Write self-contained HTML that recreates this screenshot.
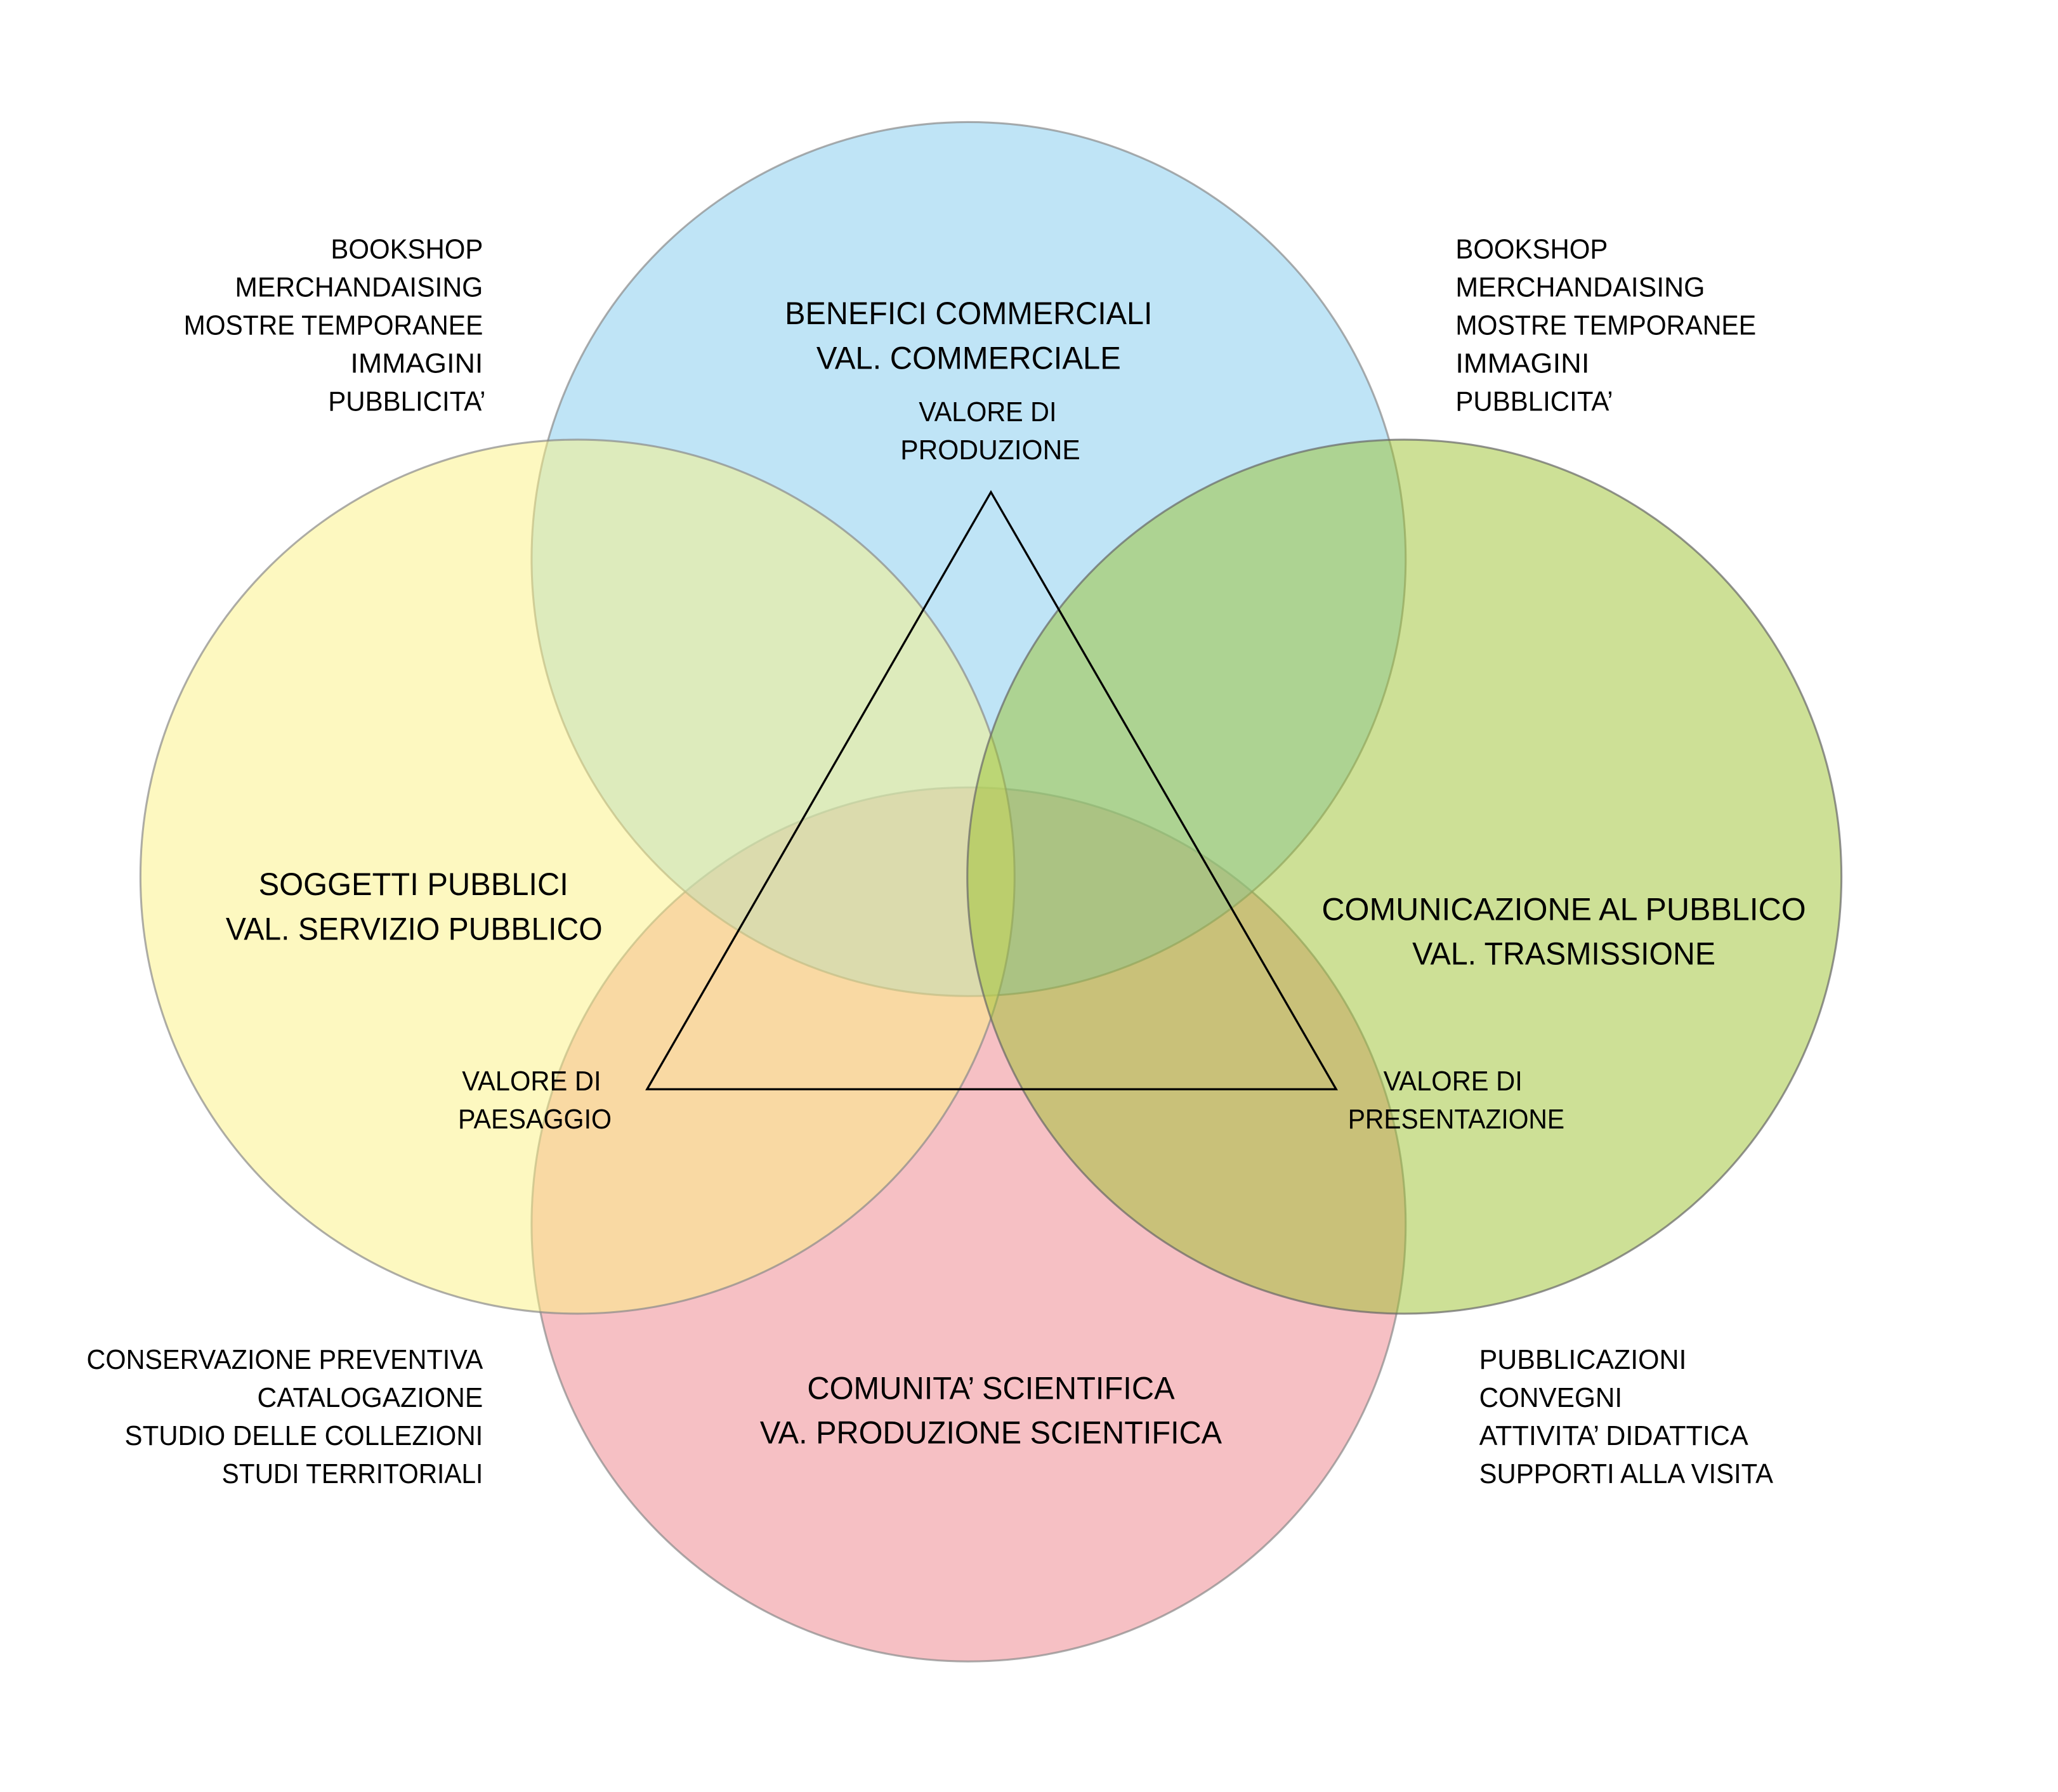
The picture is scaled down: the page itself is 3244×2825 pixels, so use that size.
<!DOCTYPE html>
<html><head><meta charset="utf-8"><style>html,body{margin:0;padding:0;background:#fff}svg{display:block}</style></head>
<body>
<svg width="3244" height="2825" viewBox="0 0 1568 1365.5" xmlns="http://www.w3.org/2000/svg" font-family="'Liberation Sans', sans-serif" fill="#000">
<rect width="1568" height="1365.5" fill="#fff"/>
<g stroke="#8a8a8a" stroke-width="1.5" stroke-opacity="0.7">
<circle cx="738" cy="933" r="333" fill="#f6c0c4"/>
<circle cx="738" cy="426" r="333" fill="#7fc9ed" fill-opacity="0.5"/>
<circle cx="440" cy="668" r="333" fill="#fbf181" fill-opacity="0.5"/>
<circle cx="1070" cy="668" r="333" fill="#9bc12d" fill-opacity="0.5" stroke="#666"/>
</g>
<polygon points="755,375 493,830 1018,830" fill="none" stroke="#000" stroke-width="1.6"/>
<g font-size="24">
<text x="598" y="247" textLength="280" lengthAdjust="spacingAndGlyphs">BENEFICI COMMERCIALI</text>
<text x="622" y="281" textLength="232" lengthAdjust="spacingAndGlyphs">VAL. COMMERCIALE</text>
<text x="197" y="682" textLength="236" lengthAdjust="spacingAndGlyphs">SOGGETTI  PUBBLICI</text>
<text x="172" y="716" textLength="287" lengthAdjust="spacingAndGlyphs">VAL. SERVIZIO PUBBLICO</text>
<text x="1007" y="701" textLength="369" lengthAdjust="spacingAndGlyphs">COMUNICAZIONE AL PUBBLICO</text>
<text x="1076" y="735" textLength="231" lengthAdjust="spacingAndGlyphs">VAL. TRASMISSIONE</text>
<text x="615" y="1066" textLength="280" lengthAdjust="spacingAndGlyphs">COMUNITA’ SCIENTIFICA</text>
<text x="579" y="1100" textLength="352" lengthAdjust="spacingAndGlyphs">VA. PRODUZIONE SCIENTIFICA</text>
</g>
<g font-size="21">
<text x="700" y="321" textLength="105" lengthAdjust="spacingAndGlyphs">VALORE DI</text>
<text x="686" y="350" textLength="137" lengthAdjust="spacingAndGlyphs">PRODUZIONE</text>
<text x="352" y="831" textLength="106" lengthAdjust="spacingAndGlyphs">VALORE DI</text>
<text x="349" y="860" textLength="117" lengthAdjust="spacingAndGlyphs">PAESAGGIO</text>
<text x="1054" y="831" textLength="106" lengthAdjust="spacingAndGlyphs">VALORE DI</text>
<text x="1027" y="860" textLength="165" lengthAdjust="spacingAndGlyphs">PRESENTAZIONE</text>

<text x="252" y="197" textLength="116" lengthAdjust="spacingAndGlyphs">BOOKSHOP</text>
<text x="179" y="226" textLength="189" lengthAdjust="spacingAndGlyphs">MERCHANDAISING</text>
<text x="140" y="255" textLength="228" lengthAdjust="spacingAndGlyphs">MOSTRE TEMPORANEE</text>
<text x="267" y="284" textLength="101" lengthAdjust="spacingAndGlyphs">IMMAGINI</text>
<text x="250" y="313" textLength="120" lengthAdjust="spacingAndGlyphs">PUBBLICITA’</text>

<text x="1109" y="197" textLength="116" lengthAdjust="spacingAndGlyphs">BOOKSHOP</text>
<text x="1109" y="226" textLength="190" lengthAdjust="spacingAndGlyphs">MERCHANDAISING</text>
<text x="1109" y="255" textLength="229" lengthAdjust="spacingAndGlyphs">MOSTRE TEMPORANEE</text>
<text x="1109" y="284" textLength="102" lengthAdjust="spacingAndGlyphs">IMMAGINI</text>
<text x="1109" y="313" textLength="120" lengthAdjust="spacingAndGlyphs">PUBBLICITA’</text>

<text x="66" y="1043" textLength="302" lengthAdjust="spacingAndGlyphs">CONSERVAZIONE PREVENTIVA</text>
<text x="196" y="1072" textLength="172" lengthAdjust="spacingAndGlyphs">CATALOGAZIONE</text>
<text x="95" y="1101" textLength="273" lengthAdjust="spacingAndGlyphs">STUDIO DELLE COLLEZIONI</text>
<text x="169" y="1130" textLength="199" lengthAdjust="spacingAndGlyphs">STUDI TERRITORIALI</text>

<text x="1127" y="1043" textLength="158" lengthAdjust="spacingAndGlyphs">PUBBLICAZIONI</text>
<text x="1127" y="1072" textLength="109" lengthAdjust="spacingAndGlyphs">CONVEGNI</text>
<text x="1127" y="1101" textLength="205" lengthAdjust="spacingAndGlyphs">ATTIVITA’ DIDATTICA</text>
<text x="1127" y="1130" textLength="224" lengthAdjust="spacingAndGlyphs">SUPPORTI ALLA VISITA</text>
</g>
</svg>
</body></html>
